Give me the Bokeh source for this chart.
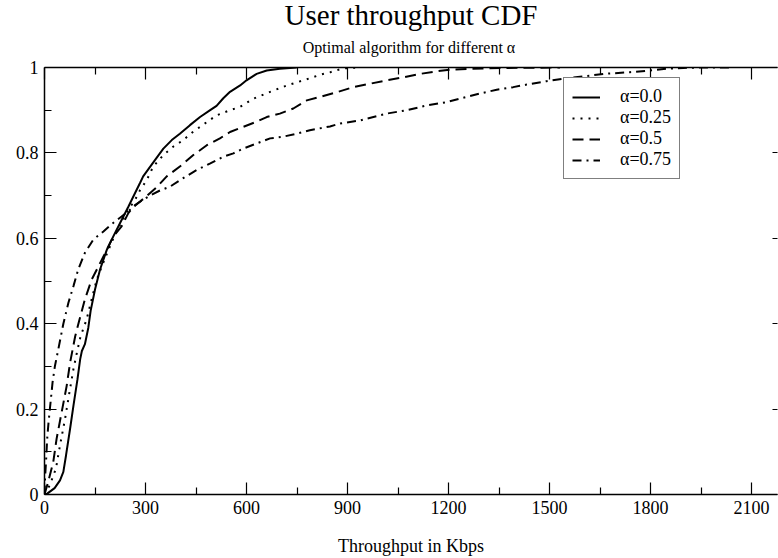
from bokeh.plotting import figure
from bokeh.models import Range1d, LinearAxis, FixedTicker, Legend, LegendItem, Title
from bokeh.embed import file_html
from bokeh.resources import INLINE

# ---------------- data ----------------
title_text = "User throughput CDF"
subtitle_text = "Optimal algorithm for different  α"
x_label = "Throughput in Kbps"

x_ticks = [0, 300, 600, 900, 1200, 1500, 1800, 2100]
x_minor_ticks = [150, 450, 750, 1050, 1350, 1650, 1950]
y_ticks = [0, 0.2, 0.4, 0.6, 0.8, 1.0]
y_minor_ticks = [0.1, 0.3, 0.5, 0.7, 0.9]
y_tick_labels = ["0", "0.2", "0.4", "0.6", "0.8", "1"]

series_names = ["α=0.0", "α=0.25", "α=0.5", "α=0.75"]

a00_x = [0, 8, 30, 46, 56, 64, 76, 86, 98, 106, 111, 120, 130, 137, 150, 165, 185, 204, 229,
         249, 269, 284, 293, 328, 353, 378, 402, 432, 462, 492, 511, 531, 551, 581, 600, 630,
         660, 699, 749]
a00_y = [0, 0.002, 0.015, 0.033, 0.053, 0.092, 0.154, 0.208, 0.270, 0.317, 0.336, 0.352, 0.39,
         0.43, 0.480, 0.527, 0.573, 0.604, 0.643, 0.674, 0.706, 0.730, 0.745, 0.783, 0.810,
         0.830, 0.845, 0.865, 0.884, 0.900, 0.910, 0.928, 0.943, 0.958, 0.970, 0.985, 0.993,
         0.997, 1.0]

a025_x = [0, 16, 34, 46, 61, 74, 86, 97, 107, 125, 140, 155, 170, 190, 209, 229, 249, 269, 284,
          304, 323, 353, 383, 412, 442, 482, 511, 551, 581, 621, 670, 720, 769, 819, 849, 887, 937]
a025_y = [0, 0.022, 0.061, 0.115, 0.177, 0.239, 0.294, 0.335, 0.37, 0.41, 0.457, 0.503, 0.534,
          0.573, 0.608, 0.639, 0.667, 0.690, 0.713, 0.737, 0.768, 0.795, 0.815, 0.830, 0.850,
          0.872, 0.888, 0.900, 0.908, 0.927, 0.943, 0.958, 0.970, 0.983, 0.989, 0.998, 1.0]

a05_x = [0, 11, 26, 36, 51, 66, 76, 91, 104, 120, 140, 160, 185, 204, 229, 249, 269, 284, 305,
         335, 363, 402, 442, 482, 521, 551, 590, 630, 660, 699, 739, 779, 818, 868, 917, 967,
         1016, 1066, 1115, 1165, 1204, 1264, 1363, 1531]
a05_y = [0, 0.030, 0.076, 0.131, 0.193, 0.255, 0.309, 0.37, 0.41, 0.457, 0.503, 0.534, 0.573,
         0.604, 0.628, 0.659, 0.678, 0.686, 0.700, 0.721, 0.745, 0.768, 0.795, 0.818, 0.834,
         0.849, 0.861, 0.873, 0.884, 0.892, 0.904, 0.923, 0.931, 0.942, 0.954, 0.962, 0.970,
         0.977, 0.985, 0.991, 0.995, 0.997, 0.999, 1.0]

a075_x = [0, 1.5, 4.5, 8, 12, 18, 24, 31, 41, 46, 56, 71, 86, 100, 120, 145, 175, 204, 229, 254,
          284, 313, 343, 373, 412, 452, 491, 531, 561, 590, 630, 670, 709, 749, 788, 848, 878,
          937, 1016, 1076, 1135, 1195, 1234, 1293, 1343, 1392, 1432, 1491, 1541, 1600, 1660,
          1739, 1798, 1848, 1897, 1947, 2045]
a075_y = [0, 0.037, 0.076, 0.131, 0.169, 0.216, 0.263, 0.301, 0.340, 0.36, 0.40, 0.449, 0.488,
          0.527, 0.566, 0.597, 0.616, 0.636, 0.651, 0.667, 0.686, 0.700, 0.712, 0.721, 0.741,
          0.760, 0.775, 0.791, 0.799, 0.810, 0.822, 0.834, 0.838, 0.845, 0.853, 0.862, 0.869,
          0.876, 0.892, 0.900, 0.911, 0.919, 0.927, 0.939, 0.948, 0.954, 0.960, 0.968, 0.974,
          0.979, 0.985, 0.989, 0.993, 0.997, 0.999, 1.0, 1.0]

series_x = [a00_x, a025_x, a05_x, a075_x]
series_y = [a00_y, a025_y, a05_y, a075_y]

# ---------------- layout / style ----------------
FONT = "Liberation Serif"
W, H = 778, 558
LEFT, RIGHT_PAD, TOP, BOTTOM = 44, 1, 67, 62
X_END = 2177
dashes = ["solid", "2 6", "11 6", "9 5 2 5"]

p = figure(width=W, height=H, x_range=Range1d(0, X_END), y_range=Range1d(0, 1),
           output_backend="svg", toolbar_location=None,
           min_border_left=LEFT, min_border_right=RIGHT_PAD,
           min_border_top=TOP, min_border_bottom=BOTTOM)
p.outline_line_color = None
p.xgrid.grid_line_color = None
p.ygrid.grid_line_color = None
p.background_fill_color = "white"
p.border_fill_color = "white"

xt = FixedTicker(ticks=x_ticks, minor_ticks=x_minor_ticks)
yt = FixedTicker(ticks=y_ticks, minor_ticks=y_minor_ticks)


def style_axis(ax):
    ax.axis_line_color = "black"
    ax.axis_line_width = 1.5
    ax.major_tick_line_color = "black"
    ax.minor_tick_line_color = "black"
    ax.major_tick_line_width = 1.2
    ax.minor_tick_line_width = 1.2
    ax.major_tick_in = 12
    ax.major_tick_out = 0
    ax.minor_tick_in = 7
    ax.minor_tick_out = 0
    ax.major_label_text_font = FONT
    ax.major_label_text_color = "black"
    ax.major_label_text_font_size = "18px"


xa = p.xaxis[0]
xa.ticker = xt
style_axis(xa)
xa.major_label_standoff = 6
xa.axis_label = x_label
xa.axis_label_text_font = FONT
xa.axis_label_text_font_style = "normal"
xa.axis_label_text_font_size = "18px"
xa.axis_label_text_color = "black"
xa.axis_label_standoff = 19

ya = p.yaxis[0]
ya.ticker = yt
style_axis(ya)
ya.major_label_standoff = 6
ya.major_label_overrides = {t: l for t, l in zip(y_ticks, y_tick_labels)}

top = LinearAxis(ticker=xt)
style_axis(top)
top.major_label_text_font_size = "0px"
top.major_label_text_color = None
top.major_label_standoff = 0
p.add_layout(top, "above")

right = LinearAxis(ticker=yt)
style_axis(right)
right.axis_line_color = None
right.major_tick_in = 5
right.minor_tick_in = 0
right.major_label_text_font_size = "0px"
right.major_label_text_color = None
right.major_label_standoff = 0
p.add_layout(right, "right")

items = []
for name, xs, ys, d in zip(series_names, series_x, series_y, dashes):
    r = p.line(xs, ys, line_color="black", line_width=2, line_dash=d)
    items.append(LegendItem(label=name, renderers=[r]))

legend = Legend(items=items, location=(519, 315))
legend.label_text_font = FONT
legend.label_text_font_size = "18px"
legend.label_text_color = "black"
legend.glyph_width = 28
legend.glyph_height = 16
legend.label_height = 17
legend.label_standoff = 20
legend.padding = 8
legend.spacing = 0
legend.margin = 0
legend.border_line_color = "black"
legend.border_line_width = 1
legend.background_fill_color = "white"
legend.background_fill_alpha = 1
p.add_layout(legend)

subtitle = Title(text=subtitle_text, align="center", text_font=FONT, text_font_size="16px",
                 text_font_style="normal", text_color="black", standoff=24)
p.add_layout(subtitle, "above")
title = Title(text=title_text, align="center", text_font=FONT, text_font_size="29px",
              text_font_style="normal", text_color="black", standoff=-12)
p.add_layout(title, "above")

open("out.html", "w").write(file_html(p, INLINE))
